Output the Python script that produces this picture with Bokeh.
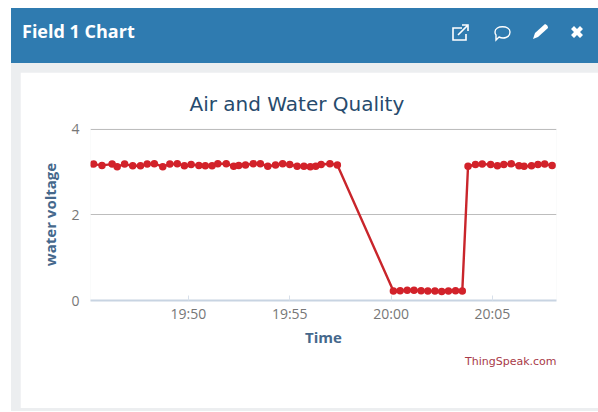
from bokeh.plotting import figure
from bokeh.embed import file_html
from bokeh.resources import INLINE
from bokeh.layouts import column
from bokeh.models import FixedTicker, DatetimeTickFormatter, Range1d, Div, Title
import pandas as pd

times = [
 "19:45:19","19:45:44","19:46:14","19:46:29","19:46:51","19:47:15","19:47:38","19:47:58","19:48:19","19:48:44",
 "19:49:05","19:49:27","19:49:48","19:50:08","19:50:31","19:50:50","19:51:10","19:51:27","19:51:52","19:52:14",
 "19:52:29","19:52:49","19:53:12","19:53:33","19:53:55","19:54:18","19:54:39","19:55:00","19:55:22","19:55:42",
 "19:56:01","19:56:17","19:56:33","19:56:59","19:57:21",
 "20:00:07","20:00:27","20:00:48","20:01:08","20:01:29","20:01:49","20:02:10","20:02:30","20:02:50","20:03:11","20:03:31",
 "20:03:48","20:04:10","20:04:30","20:04:55","20:05:15","20:05:34","20:05:56","20:06:19","20:06:34","20:06:56","20:07:15","20:07:35","20:07:57",
]
voltage = [
 3.19,3.16,3.19,3.13,3.19,3.15,3.15,3.19,3.20,3.13,3.19,3.20,3.15,3.18,3.16,3.15,3.15,3.20,3.20,3.14,
 3.16,3.17,3.20,3.20,3.14,3.17,3.20,3.18,3.14,3.14,3.13,3.14,3.18,3.20,3.17,
 0.22,0.23,0.24,0.24,0.23,0.22,0.22,0.21,0.22,0.23,0.22,
 3.14,3.18,3.19,3.18,3.15,3.18,3.20,3.15,3.14,3.15,3.18,3.19,3.16,
]
x_ticks = ["19:50","19:55","20:00","20:05"]
y_ticks = [0,2,4]
x_start, x_end = "19:45:10","20:08:10"
title = "Air and Water Quality"
panel_title = "Field 1 Chart"
x_label, y_label = "Time", "water voltage"
credit = "ThingSpeak.com"

def ts(s):
    return pd.Timestamp("2018-01-01 " + (s if s.count(":") == 2 else s + ":00"))
x = [ts(t) for t in times]

icons = """
<svg xmlns='http://www.w3.org/2000/svg' width='587' height='55' style='position:absolute;left:0;top:0'>
 <g fill='none' stroke='white' stroke-width='1.6'>
  <path d='M451 20 h-9 v12 h13 v-6'/>
  <path d='M447 27 L456 18 M451 17 h6 v6'/>
  <path d='M484 24 c0 -7 15 -7 15 0 c0 6 -7 7 -11 5 l-3 3 l0 -5 c-1 -1 -1 -2 -1 -3 z' stroke-width='1.4'/>
 </g>
 <g fill='white'>
  <path d='M522 31 l2 -6 l10 -9 q3 1 3 4 l-10 9 z'/>
  <path d='M560 21 l3 -3 l3 3 l3 -3 l3 3 l-3 3 l3 3 l-3 3 l-3 -3 l-3 3 l-3 -3 l3 -3 z'/>
 </g>
</svg>"""

header = Div(text=f"{icons}<span style='position:absolute;left:11px;top:11px;color:white;font:bold 18px \"Open Sans\"'>{panel_title}</span>",
             width=587, height=55, margin=(0, 0, 0, 0),
             styles={"background-color": "#2f7bb0", "position": "relative"})

W, H = 578, 336
p = figure(width=W, height=H, x_axis_type="datetime", output_backend="svg", toolbar_location=None,
           x_range=Range1d(ts(x_start), ts(x_end)), y_range=Range1d(0, 4.023),
           min_border_left=70, min_border_right=42, min_border_top=56, min_border_bottom=108,
           background_fill_color="white", border_fill_color="white", outline_line_color=None,
           margin=(9, 0, 3, 9))

p.title.text = title
p.title.text_color = "#274b6d"
p.title.text_font = "DejaVu Sans"
p.title.text_font_style = "normal"
p.title.text_font_size = "20px"
p.title.align = "left"
p.title.offset = 99
p.title.standoff = 25

p.add_layout(Title(text=credit, align="right", text_color="#a83a48", text_font="DejaVu Sans",
                   text_font_style="normal", text_font_size="11px", standoff=6), "below")

p.line(x, voltage, line_color="#c9252b", line_width=2.4)
p.scatter(x, voltage, size=7.5, fill_color="#d2222a", line_color=None)

p.xgrid.visible = False
p.ygrid.ticker = FixedTicker(ticks=[v for v in y_ticks if v != 0])
p.ygrid.grid_line_color = "#bdbdbd"
p.ygrid.grid_line_width = 1

xa, ya = p.xaxis[0], p.yaxis[0]
xa.ticker = FixedTicker(ticks=[ts(t).value / 1e6 for t in x_ticks])
xa.formatter = DatetimeTickFormatter(minutes="%H:%M", hours="%H:%M", minsec="%H:%M", seconds="%H:%M", milliseconds="%H:%M", days="%H:%M")
xa.axis_line_color = "#c8d4e2"
xa.axis_line_width = 2
xa.major_tick_in = 5
xa.major_tick_out = 0
xa.major_tick_line_color = "#d8e0ea"
xa.minor_tick_line_color = None
xa.major_label_text_color = "#777777"
xa.major_label_text_font = "Open Sans"
xa.major_label_text_font_size = "14px"
xa.major_label_standoff = 3
xa.axis_label = x_label
xa.axis_label_text_color = "#45688c"
xa.axis_label_text_font = "Open Sans"
xa.axis_label_text_font_style = "bold"
xa.axis_label_text_font_size = "15px"
xa.axis_label_standoff = 1

ya.ticker = FixedTicker(ticks=y_ticks)
ya.axis_line_color = None
ya.major_tick_line_color = None
ya.minor_tick_line_color = None
ya.major_label_text_color = "#777777"
ya.major_label_text_font = "Open Sans"
ya.major_label_text_font_size = "14px"
ya.major_label_standoff = 5
ya.axis_label = y_label
ya.axis_label_text_color = "#45688c"
ya.axis_label_text_font = "Open Sans"
ya.axis_label_text_font_style = "bold"
ya.axis_label_text_font_size = "15px"
ya.axis_label_standoff = 8

page = column(header, p, width=587, margin=(8, 0, 0, 11), spacing=0,
              styles={"background-color": "#eceef0"})

open("out.html", "w").write(file_html(page, INLINE))
